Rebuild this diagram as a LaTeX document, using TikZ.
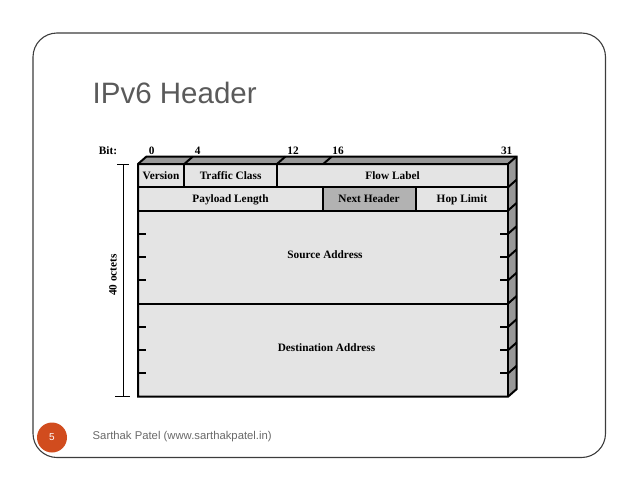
\documentclass[tikz,border=0pt]{standalone}
\usepackage{fontspec}
\setmainfont{Liberation Serif}
\newfontfamily\slidesans{Liberation Sans}
\usetikzlibrary{calc}
\definecolor{framegray}{RGB}{60,60,60}
\definecolor{titlegray}{RGB}{90,90,90}
\definecolor{footgray}{RGB}{105,105,105}
\definecolor{slideorange}{RGB}{209,76,30}
\definecolor{frontgray}{RGB}{228,228,228}
\definecolor{facegray}{RGB}{152,152,152}
\definecolor{nextgray}{RGB}{178,178,178}
\newcommand{\hdrfont}{\fontsize{11.3}{13}\selectfont\bfseries}
\def\bw{11.58}
\def\rh{23.27}

\begin{document}
\begin{tikzpicture}[x=1pt, y=-1pt,
    hdr/.style={font=\hdrfont, inner sep=0pt},
    boxline/.style={line width=2pt, line join=miter},
    thinline/.style={line width=0.8pt}]

\useasboundingbox (0,0) rectangle (638,493);

% Slide frame
\draw[framegray, line width=1.1pt, rounded corners=24pt] (33,33) rectangle (605.5,457.5);

% Title
\node[titlegray, font=\slidesans\fontsize{29.5}{34}\selectfont, inner sep=0pt, anchor=base west]
    (title) at (92.5,103.5) {IPv6 Header};

% Faces of the header block
\fill[facegray] (138,164) -- (146.5,156.5) -- (516.5,156.5) -- (508,164) -- cycle;
\fill[facegray] (508,164) -- (516.5,156.5) -- (516.5,389.2) -- (508,396.7) -- cycle;
\fill[frontgray] (138,164) rectangle (508,396.7);
\fill[nextgray] ({138+16*\bw},{164+\rh}) rectangle ({138+24*\bw},{164+2*\rh});

% Outline
\draw[boxline] (138,164) -- (146.5,156.5) -- (516.5,156.5) -- (516.5,389.2)
    -- (508,396.7) -- (138,396.7) -- cycle;
\draw[boxline] (138,164) -- (508,164) -- (516.5,156.5);
\draw[boxline] (508,164) -- (508,396.7);

% Top face splits at bits 4, 12, 16
\foreach \b in {4,12,16}
  \draw[boxline] ({138+\b*\bw},164) -- ++(8.5,-7.5);

% Row lines
\foreach \k in {1,2,6}
  \draw[boxline] (138,{164+\k*\rh}) -- (508,{164+\k*\rh});

% Field splits
\foreach \b in {4,12}
  \draw[boxline] ({138+\b*\bw},164) -- ++(0,\rh);
\foreach \b in {16,24}
  \draw[boxline] ({138+\b*\bw},{164+\rh}) -- ++(0,\rh);

% Side face slants
\foreach \k in {1,...,9}
  \draw[boxline] (508,{164+\k*\rh}) -- ++(8.5,-7.5);

% 32-bit word ticks
\foreach \k in {3,4,5,7,8,9} {
  \draw[boxline] (138,{164+\k*\rh}) -- ++(8,0);
  \draw[boxline] (508,{164+\k*\rh}) -- ++(-8,0);
}

% Bit positions
\node[hdr] (bitlbl) at (108,150.5) {Bit:};
\node[hdr] (bit0) at (151.7,150.5) {0};
\node[hdr] (bit4) at (197.7,150.5) {4};
\node[hdr] (bit12) at (293,150.5) {12};
\node[hdr] (bit16) at (338,150.5) {16};
\node[hdr] (bit31) at (506.7,150.5) {31};

% Field labels
\node[hdr] (version) at (161,176) {Version};
\node[hdr] (traffic) at (230.6,176) {Traffic Class};
\node[hdr] (flow) at (392.6,176) {Flow Label};
\node[hdr] (payload) at (230.6,199.5) {Payload Length};
\node[hdr] (nexthdr) at (369,198.5) {Next Header};
\node[hdr] (hoplim) at (462,199.5) {Hop Limit};
\node[hdr] (srcaddr) at (325,254.5) {Source Address};
\node[hdr] (dstaddr) at (326.5,347.5) {Destination Address};

% 40 octets bracket
\draw[thinline] (117,164) -- (129,164) (123,164) -- (123,396.7) (115,396.7) -- (130,396.7);
\node[hdr, rotate=90] (octets) at (113,275) {40 octets};

% Footer
\node[circle, fill=slideorange, minimum size=30pt, inner sep=0pt, text=white,
    font=\slidesans\fontsize{10}{12}\selectfont] (pagenum) at (52,437.5) {5};
\node[footgray, font=\slidesans\fontsize{11.3}{13}\selectfont, inner sep=0pt, anchor=base west]
    (footer) at (92.5,439.3) {Sarthak Patel (www.sarthakpatel.in)};

\end{tikzpicture}
\end{document}
